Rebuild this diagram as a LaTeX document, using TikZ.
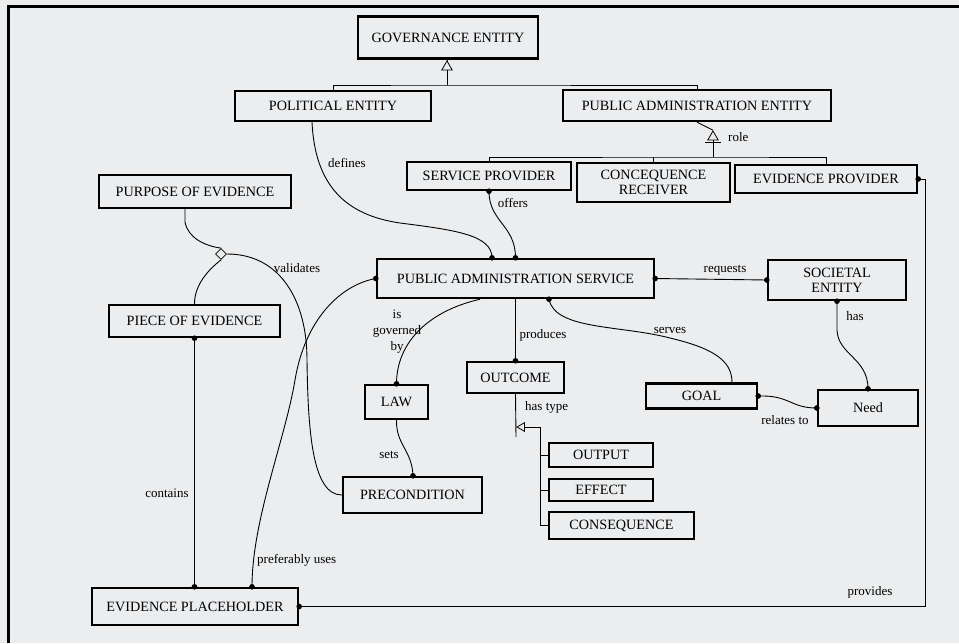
\documentclass[tikz,border=0pt]{standalone}
\usepackage{fontspec}
\setmainfont{Liberation Serif}
\usetikzlibrary{shapes.geometric}
\definecolor{bgc}{RGB}{236,237,239}
\begin{document}
\begin{tikzpicture}[x=1pt,y=-1pt,
  box/.style={draw, line width=2.4pt, fill=bgc, inner sep=1pt, align=center,
    font=\fontsize{14.2}{15}\selectfont},
  lbl/.style={font=\fontsize{13}{16}\selectfont, inner sep=0pt, align=center},
  conn/.style={line width=0.9pt},
  gentri/.style={draw, line width=0.8pt, fill=bgc, regular polygon, regular polygon sides=3,
    minimum size=12pt, inner sep=0pt},
  aggr/.style={draw, line width=0.8pt, fill=bgc, diamond, minimum size=11pt, inner sep=0pt}]
\fill[bgc] (0,0) rectangle (959,643);
\useasboundingbox (0,0) rectangle (959,643);
\draw[line width=3pt] (8,643) -- (8,6) -- (959,6);

% boxes
\node[box, minimum width=180pt, minimum height=42pt] (gov) at (448,37.5) {GOVERNANCE ENTITY};
\node[box, minimum width=196pt, minimum height=30pt] (pol) at (333,106) {POLITICAL ENTITY};
\node[box, minimum width=268pt, minimum height=31pt] (pae) at (697,105.5) {PUBLIC ADMINISTRATION ENTITY};
\node[box, minimum width=164pt, minimum height=28pt] (sp) at (489,176) {SERVICE PROVIDER};
\node[box, minimum width=153pt, minimum height=39pt] (cr) at (653.5,182.5) {CONCEQUENCE\\RECEIVER};
\node[box, minimum width=182pt, minimum height=28pt] (ep) at (826,179) {EVIDENCE PROVIDER};
\node[box, minimum width=192pt, minimum height=33pt] (poe) at (195,191.5) {PURPOSE OF EVIDENCE};
\node[box, minimum width=171pt, minimum height=32pt] (piece) at (194.5,321) {PIECE OF EVIDENCE};
\node[box, minimum width=277pt, minimum height=39pt] (pas) at (515.5,278.5) {PUBLIC ADMINISTRATION SERVICE};
\node[box, minimum width=138pt, minimum height=40pt] (soc) at (837,280) {SOCIETAL\\ENTITY};
\node[box, minimum width=63pt, minimum height=34pt] (law) at (396.5,402) {LAW};
\node[box, minimum width=97pt, minimum height=31pt] (outcome) at (515.5,377.5) {OUTCOME};
\node[box, minimum width=111pt, minimum height=25pt] (goal) at (701.5,396) {GOAL};
\node[box, minimum width=100pt, minimum height=36pt] (need) at (868,408) {Need};
\node[box, minimum width=139pt, minimum height=36pt] (precond) at (412.5,495) {PRECONDITION};
\node[box, minimum width=104pt, minimum height=24pt] (output) at (601,455) {OUTPUT};
\node[box, minimum width=104pt, minimum height=22pt] (effect) at (601,490) {EFFECT};
\node[box, minimum width=145pt, minimum height=27pt] (conseq) at (621.5,525.5) {CONSEQUENCE};
\node[box, minimum width=206pt, minimum height=37pt] (evph) at (195,606.5) {EVIDENCE PLACEHOLDER};

% governance generalization
\node[gentri] (gt1) at (447,67) {};
\coordinate (gb) at (447,85);
\draw[conn] (gov.south -| gt1.north) -- (gt1.north);
\draw[conn] (gt1.south) -- (gb);
\draw[conn] (pol.north) |- (gb) -| (pae.north);

% role generalization
\node[gentri] (gt2) at (713,137) {};
\coordinate (rb) at (713,157);
\draw[conn] (pae.south) -- (gt2.north);
\draw[conn] (705,142) -- (721,142);
\draw[conn] (gt2.south) -- (rb);
\draw[conn] (sp.north) |- (rb) -| (ep.north);
\draw[conn] (cr.north) -- (cr.north |- rb);
\node[lbl, anchor=west] (rolel) at (728,137) {role};

% defines
\draw[conn] ([xshift=-21pt]pol.south) .. controls (315,185) and (345,215) .. (400,223)
  .. controls (455,230) and (492,235) .. ([xshift=-23.5pt]pas.north);
\fill ([xshift=-23.5pt]pas.north) circle (2.8pt);
\node[lbl] (definesl) at (347,163) {defines};

% offers
\draw[conn] (sp.south) .. controls (489,222) and (515.5,225) .. (pas.north);
\fill (sp.south) circle (2.8pt);
\fill (pas.north) circle (2.8pt);
\node[lbl] (offersl) at (513,203) {offers};

% aggregation diamond
\node[aggr] (dia) at (221,254) {};
\draw[conn] ([xshift=-10pt]poe.south) -- (185,222) .. controls (188,238) and (205,246) .. (dia.north);
\draw[conn] (dia.south) .. controls (208,270) and (194.5,285) .. (piece.north);
\draw[conn] (dia.east) .. controls (280,254) and (307,300) .. (307,360)
  .. controls (308,430) and (312,495) .. (precond.west);
\node[lbl] (validatesl) at (297,268) {validates};

% preferably uses
\draw[conn] (pas.west) .. controls (340,285) and (305,320) .. (295,380)
  .. controls (285,440) and (252,520) .. ([xshift=57pt]evph.north);
\fill (pas.west) circle (2.8pt);
\fill ([xshift=57pt]evph.north) circle (2.8pt);
\node[lbl, anchor=west] (prefl) at (257,560) {preferably uses};

% contains
\draw[conn] (piece.south) -- (piece.south |- evph.north);
\fill (piece.south) circle (2.8pt);
\fill (piece.south |- evph.north) circle (2.8pt);
\node[lbl] (containsl) at (167,493) {contains};

% is governed by
\draw[conn] ([xshift=-35.5pt]pas.south) .. controls (425,312) and (396.5,345) .. (law.north);
\fill (law.north) circle (2.8pt);
\node[lbl] (govbyl) at (397,332) {is\\governed\\by};

% sets
\draw[conn] (law.south) .. controls (396,445) and (412,450) .. ([xshift=0.5pt]precond.north);
\fill ([xshift=0.5pt]precond.north) circle (2.8pt);
\node[lbl] (setsl) at (389,455) {sets};

% produces
\draw[conn] (pas.south) -- (outcome.north);
\fill (outcome.north) circle (2.8pt);
\node[lbl] (producesl) at (543,335) {produces};

% serves
\draw[conn] ([xshift=33.5pt]pas.south) .. controls (555,330) and (620,325) .. (670,338)
  .. controls (712,348) and (732,360) .. ([xshift=30.5pt]goal.north);
\fill ([xshift=33.5pt]pas.south) circle (2.8pt);
\node[lbl] (servesl) at (670,330) {serves};

% requests
\draw[conn] (pas.east) -- (soc.west);
\fill (pas.east) circle (2.8pt);
\fill (soc.west) circle (2.8pt);
\node[lbl] (requestsl) at (725,270) {requests};

% has
\draw[conn] (soc.south) -- (837,330) .. controls (838,355) and (868,358) .. (need.north);
\fill (soc.south) circle (2.8pt);
\fill (need.north) circle (2.8pt);
\node[lbl] (hasl) at (855,316) {has};

% relates to
\draw[conn] (goal.east) .. controls (790,395) and (790,408) .. (need.west);
\fill (goal.east) circle (2.8pt);
\fill (need.west) circle (2.8pt);
\node[lbl] (relatesl) at (785,420) {relates to};

% has type
\node[gentri, minimum size=10pt, regular polygon rotate=90] (ht) at (522,427) {};
\coordinate (hb) at (516,437);
\coordinate (tt) at (540,427);
\draw[conn] (outcome.south) -- (hb);
\draw[conn] (ht) -- (tt);
\draw[conn] (tt) |- (conseq.west);
\draw[conn] (output.west -| tt) -- (output.west);
\draw[conn] (effect.west -| tt) -- (effect.west);
\node[lbl, anchor=west] (hastypel) at (525,407) {has type};

% provides
\coordinate (pc) at (925,400);
\draw[conn] (evph.east) -- (evph.east -| pc) |- (ep.east);
\fill (evph.east) circle (2.8pt);
\fill (ep.east) circle (2.8pt);
\node[lbl] (providesl) at (870,592) {provides};
\end{tikzpicture}
\end{document}
